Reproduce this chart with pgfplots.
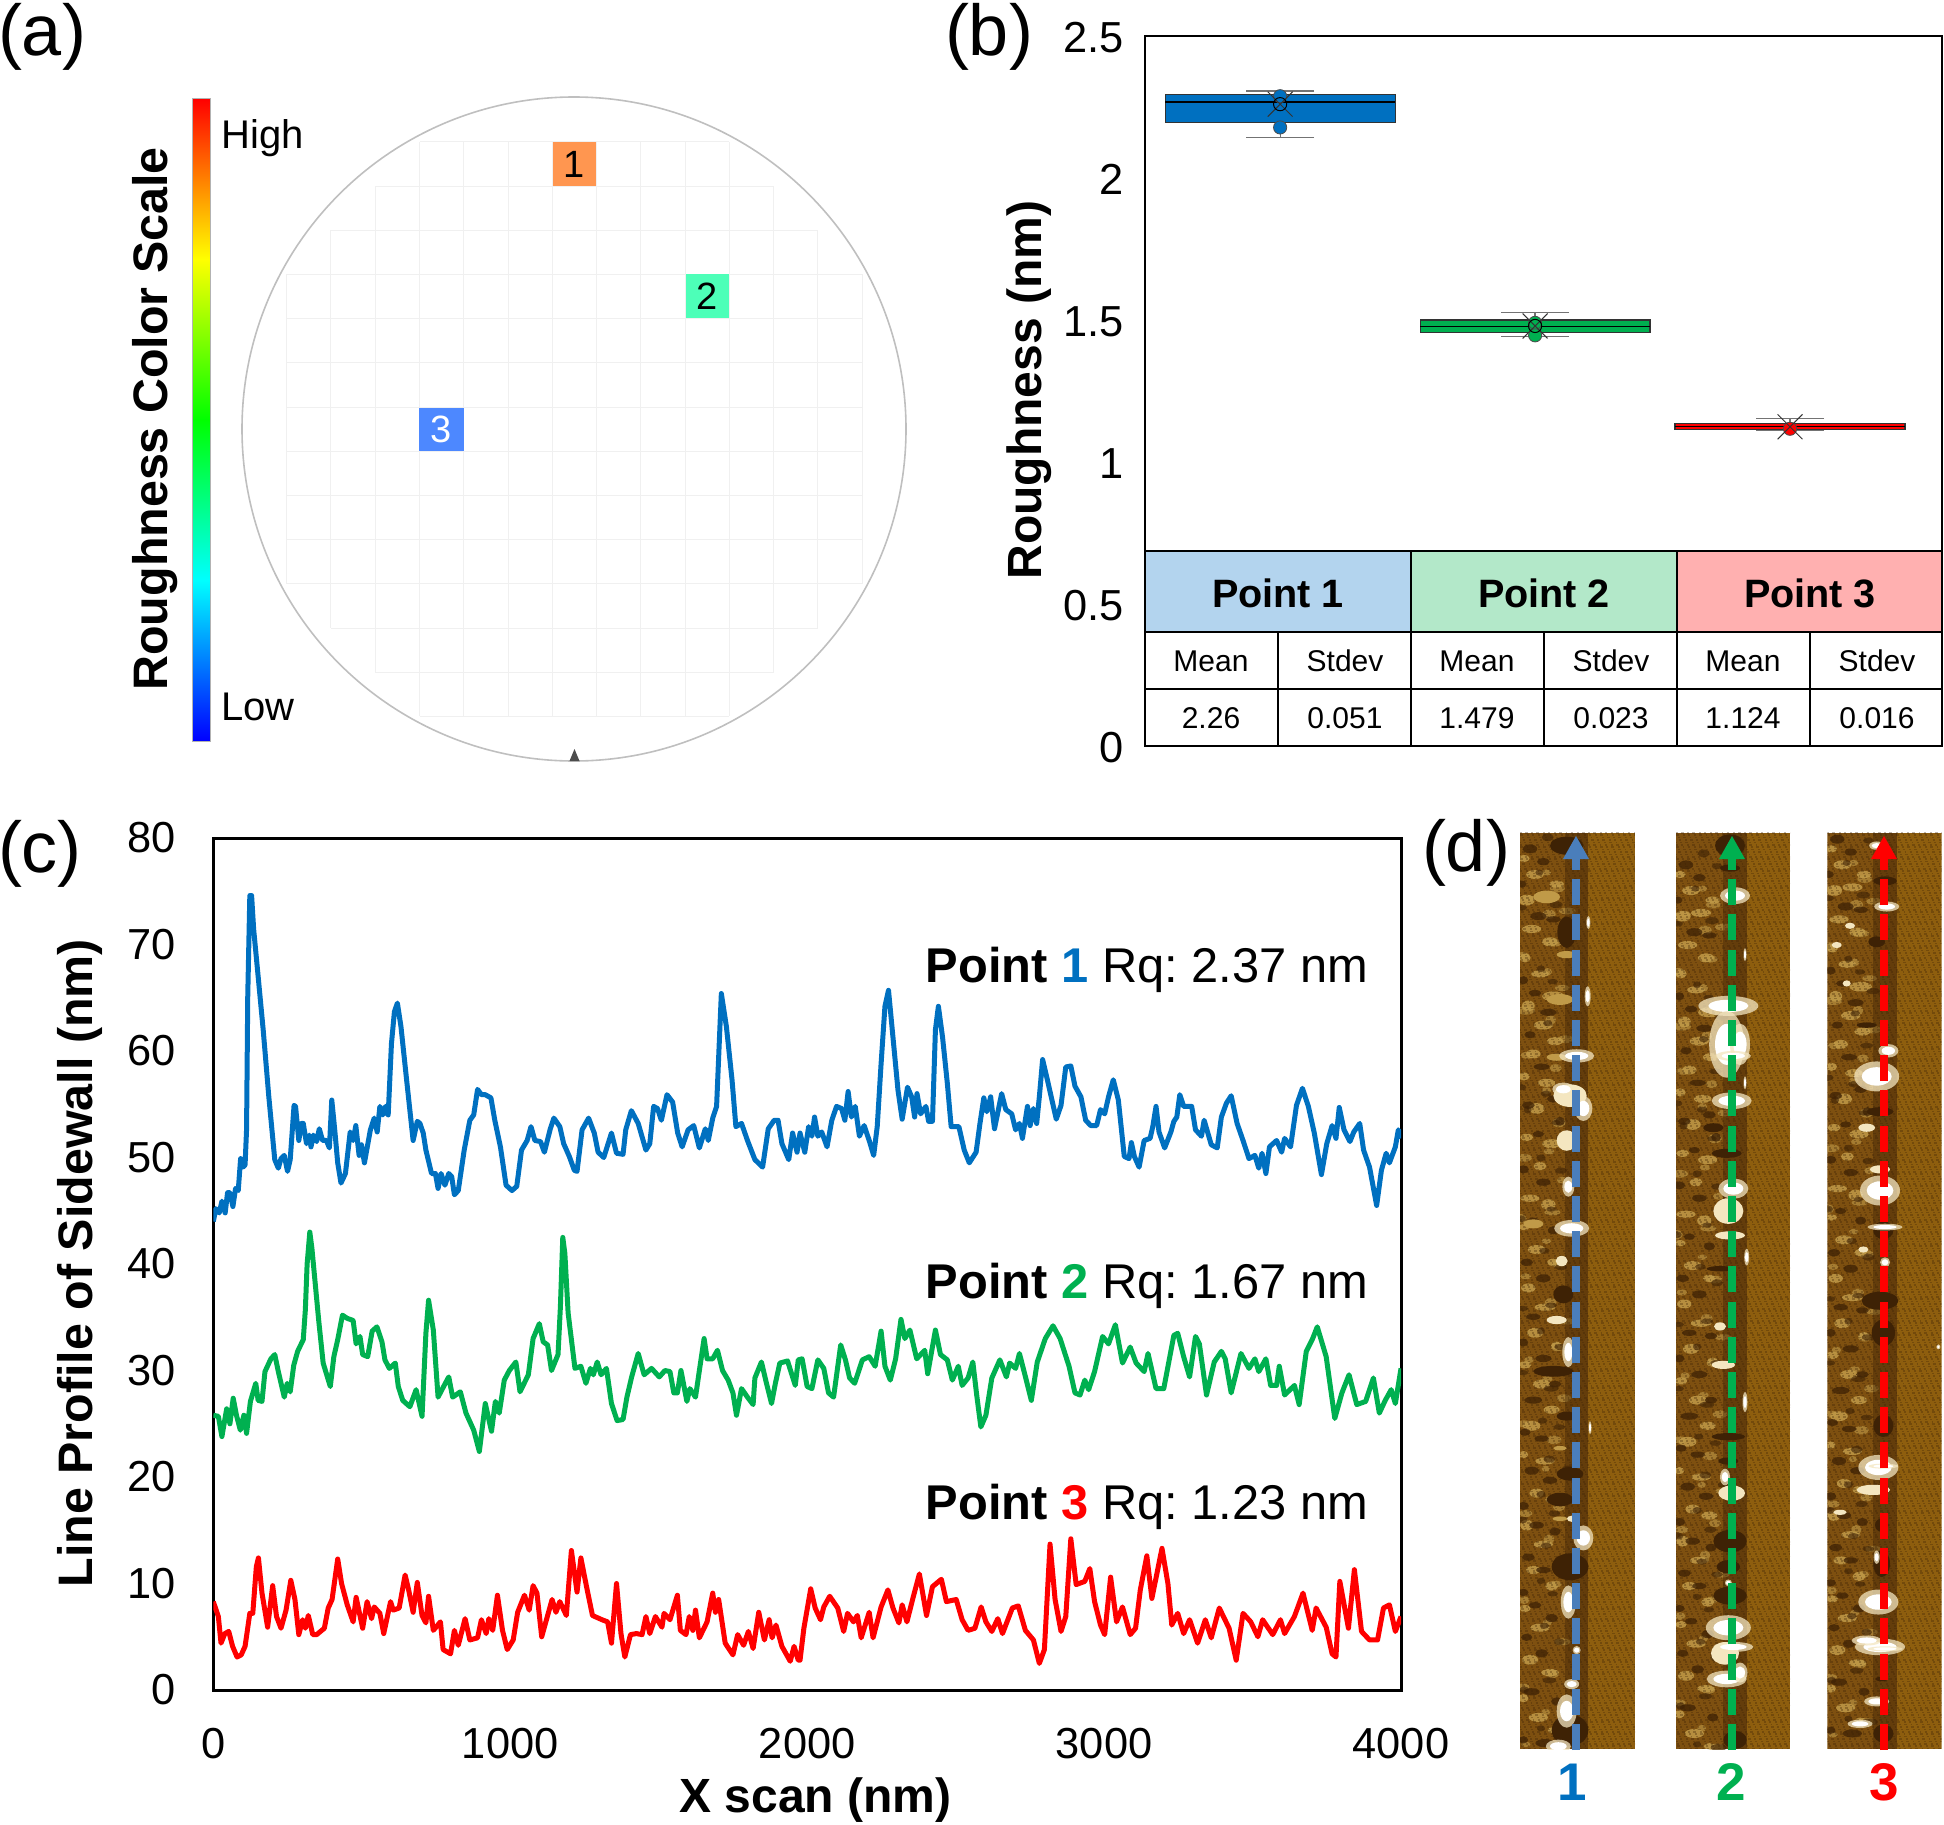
\documentclass[border=0pt]{standalone}
\usepackage{fontspec}
\setmainfont{Liberation Sans}
\usepackage{pgfplots}
\pgfplotsset{compat=1.18}
\usepgfplotslibrary{statistics}
\frenchspacing

\definecolor{pblue}{HTML}{0070C0}
\definecolor{pgreen}{HTML}{00B050}
\definecolor{pred}{HTML}{FF0000}
\definecolor{headblue}{HTML}{B3D4EE}
\definecolor{headgreen}{HTML}{B3E8C9}
\definecolor{headred}{HTML}{FFB0B0}
\definecolor{arrowblue}{HTML}{4A7EBB}
\definecolor{brownbase}{HTML}{7E5010}
\definecolor{brownflat}{HTML}{8E5E0E}
\definecolor{brownlight}{HTML}{C09A48}
\definecolor{browndark}{HTML}{3E2205}
\definecolor{creamy}{HTML}{F4E6C0}

\newcommand{\fs}[1]{\fontsize{#1}{#1}\selectfont}

% left-zone mottling of the AFM strips: dx from strip edge / Y / half sizes
\def\mottle{12/60/14/8,45/85/22/10,20/125/20/12,75/120/25/9,110/100/18/8,35/170/24/9,90/190/20/10,
15/215/14/10,60/240/22/8,100/275/28/11,25/290/16/12,70/320/24/10,40/365/18/10,105/345/20/9,
12/400/14/9,80/410/22/9,50/450/20/12,20/495/16/8,95/505/24/10,60/540/16/9,30/590/24/8,
85/600/18/12,12/635/14/7,50/670/22/10,100/690/16/8,25/730/18/10,75/760/26/8,45/800/20/11,
110/820/14/9,15/850/16/8,65/880/22/10,95/920/20/9,35/945/22/11,10/990/12/8,75/1000/24/8,
50/1050/18/10,100/1060/20/9,20/1100/16/12,70/1130/24/8,40/1170/18/9,95/1195/16/10,
15/1230/14/8,60/1260/24/9,30/1310/20/11,90/1330/22/8,10/1370/13/9,55/1400/24/10,100/1420/14/7}
\def\mottledark{30/45/18/10,70/65/16/8,5/100/12/8,55/150/20/9,100/155/18/7,10/250/12/9,45/270/16/7,
85/300/20/8,30/335/14/8,65/385/20/7,100/435/16/8,25/445/16/8,55/490/14/7,120/470/12/10,
10/545/14/9,70/565/18/8,40/625/14/7,100/640/14/9,20/690/16/8,70/715/18/9,40/775/18/7,105/780/16/7,
10/815/12/9,70/840/20/8,40/905/22/8,105/880/16/7,15/955/14/8,65/965/18/7,35/1015/18/9,
90/1030/18/8,10/1070/14/9,50/1100/18/8,105/1110/14/9,25/1150/16/8,70/1170/18/7,10/1205/13/8,
45/1225/16/7,95/1245/16/9,20/1275/14/8,65/1300/16/9,110/1375/14/9,35/1360/20/8,75/1440/24/9,10/1435/12/8}

% X0 left edge, X1 boundary of the flat zone, X2 right edge, #4 Y shift (zoomed strip coordinates)
\newcommand{\stripbase}[4]{%
  \fill[brownbase] (#1,20) rectangle (#2,1450);
  \fill[brownflat] (#2,20) rectangle (#3,1450);
  \begin{scope}
  \clip (#1,20) rectangle (#2,1450);
  \foreach \dx/\yy/\aa/\bb in \mottle {
    \pgfmathsetmacro{\cx}{#1+\dx}\pgfmathsetmacro{\cy}{\yy+#4}
    \fill[brownlight,opacity=.85] (\cx,\cy) ellipse [x radius=\aa*1.2, y radius=\bb*.7];
    \pgfmathsetmacro{\cx}{#1+mod(\dx+67,150)}\pgfmathsetmacro{\cy}{\yy+#4+22}
    \fill[brownlight,opacity=.6] (\cx,\cy) ellipse [x radius=\aa, y radius=\bb*.6];
  }
  \foreach \dx/\yy/\aa/\bb in \mottledark {
    \pgfmathsetmacro{\cx}{#1+\dx}\pgfmathsetmacro{\cy}{\yy+#4}
    \fill[browndark,opacity=.75] (\cx,\cy) ellipse [x radius=\aa*1.2, y radius=\bb*.7];
    \pgfmathsetmacro{\cx}{#1+mod(\dx+53,150)}\pgfmathsetmacro{\cy}{\yy+#4-18}
    \fill[browndark,opacity=.6] (\cx,\cy) ellipse [x radius=\aa, y radius=\bb*.6];
  }
  \end{scope}
  \fill[browndark,opacity=.4] (#2-70,20) rectangle (#2,1450);
  % fine scan grain
  \foreach \r in {0,...,381} {
    \pgfmathsetmacro{\yy}{20+3.75*\r}
    \pgfmathsetmacro{\ph}{mod(\r*2.3,5.7)}
    \draw[browndark,opacity=.33,line width=.8pt,dash pattern=on .9pt off 1.6pt on 1.3pt off 1.9pt,dash phase=\ph pt] (#1,\yy) -- (#3,\yy);
  }
}
% white spot with a cream halo round it
\newcommand{\spot}[4]{%
  \fill[creamy,opacity=.75] (#1,#2) ellipse [x radius=#3*1.5, y radius=#4*1.3];
  \fill[white] (#1,#2) ellipse [x radius=#3, y radius=#4*.8];
}

\begin{document}
\begin{tikzpicture}
\begin{scope}[x=0.5pt,y=-0.5pt]
\useasboundingbox (0,0) rectangle (1944,1825);

% ---- (a) wafer map
\node[font=\fs{36}] at (42,37) {(a)};
\node[font=\fs{36}] at (989,37) {(b)};
\node[font=\fs{36}] at (40,854) {(c)};
\node[font=\fs{36}] at (1466,853) {(d)};

\node[font=\fs{24.2}\bfseries,rotate=90] at (155,419) {Roughness Color Scale};
\shade[top color=red,bottom color=yellow] (192,98.5) rectangle (210,259.1);
\shade[top color=yellow,bottom color=green] (192,259.1) rectangle (210,419.75);
\shade[top color=green,bottom color=cyan] (192,419.75) rectangle (210,580.4);
\shade[top color=cyan,bottom color=blue] (192,580.4) rectangle (210,741);
\draw[gray!60,line width=.5pt] (192,98.5) rectangle (210,741);
\node[font=\fs{20},anchor=west,inner sep=0] at (221,138) {High};
\node[font=\fs{20},anchor=west,inner sep=0] at (221,707) {Low};

\draw[gray!50,line width=.8pt] (574,429) circle (332);

% die grid, row by row
\foreach \row/\ia/\ib in {0/3/10,1/2/11,2/1/12,3/0/13,4/0/13,5/0/13,6/0/13,7/0/13,8/0/13,9/0/13,10/1/12,11/2/11,12/3/10} {
  \pgfmathsetmacro{\ya}{141.8+44.2*\row}
  \pgfmathsetmacro{\yb}{141.8+44.2*(\row+1)}
  \pgfmathtruncatemacro{\ic}{\ib}
  \foreach \i in {\ia,...,\ic} {
    \pgfmathsetmacro{\xx}{286.7+44.27*\i}
    \draw[black!6,line width=.5pt] (\xx,\ya) -- (\xx,\yb);
  }
  \pgfmathsetmacro{\xa}{286.7+44.27*\ia}
  \pgfmathsetmacro{\xb}{286.7+44.27*\ib}
  \draw[black!6,line width=.5pt] (\xa,\ya) -- (\xb,\ya) (\xa,\yb) -- (\xb,\yb);
}
\fill[fill={rgb,255:red,255;green,150;blue,80}] (552.7,141.8) rectangle (595.8,186);
\node[font=\fs{19}] at (574,164) {1};
\fill[fill={rgb,255:red,77;green,255;blue,184}] (685.5,274.1) rectangle (729,318.4);
\node[font=\fs{19}] at (707,296) {2};
\fill[fill={rgb,255:red,77;green,136;blue,255}] (419.4,407.5) rectangle (463.6,450.7);
\node[font=\fs{19},text=white] at (441.5,429) {3};
\fill[black!70] (569.5,761) -- (574.5,749) -- (579.5,761) -- cycle;
\end{scope}

% ---- (b) box plots
\begin{axis}[
    name=boxes,
    at={(572.5pt,-373pt)},
    anchor=south west,
    scale only axis,
    width=398.5pt,
    height=355pt,
    xmin=0.47, xmax=3.596,
    ymin=0, ymax=2.5,
    xtick=\empty,
    ytick={0,0.5,1,1.5,2,2.5},
    yticklabels={0,0.5,1,1.5,2,2.5},
    major tick length=0pt,
    yticklabel style={font=\fs{21.7},/pgf/number format/assume math mode=true,inner sep=0pt},
    ylabel={\bfseries Roughness (nm)},
    every axis y label/.style={at={(axis description cs:-0.1455,0.501)},rotate=90,anchor=center,font=\fs{24}},
    axis line style={line width=1.2pt},
    y tick label style={xshift=-10.5pt,yshift=-0.8pt},
    boxplot/draw direction=y,
    boxplot/every whisker/.style={draw=black!55,line width=.6pt},
    boxplot/every median/.style={draw=black,line width=.7pt},
    boxplot/every box/.style={draw=black!80,line width=.6pt},
]
\addplot[fill=pblue,boxplot prepared={draw position=1,lower whisker=2.144,lower quartile=2.196,median=2.268,upper quartile=2.295,upper whisker=2.306,box extend=0.902,whisker extend=0.267}] coordinates {};
\addplot[fill=pgreen,boxplot prepared={draw position=2,lower whisker=1.442,lower quartile=1.456,median=1.477,upper quartile=1.500,upper whisker=1.526,box extend=0.902,whisker extend=0.267}] coordinates {};
\addplot[fill=pred,boxplot prepared={draw position=3,lower whisker=1.110,lower quartile=1.115,median=1.126,upper quartile=1.135,upper whisker=1.154,box extend=0.902,whisker extend=0.267}] coordinates {};
% outlying points
\addplot[only marks,mark=*,mark size=3.3pt,mark options={fill=pblue,draw=black!70,line width=.4pt}] coordinates {(1,2.288)(1,2.178)};
\addplot[only marks,mark=*,mark size=3.3pt,mark options={fill=pgreen,draw=black!70,line width=.4pt}] coordinates {(2,1.490)(2,1.446)};
\addplot[only marks,mark=*,mark size=3.3pt,mark options={fill=pred,draw=black!70,line width=.4pt}] coordinates {(3,1.117)};
% means
\addplot[only marks,mark=x,mark size=8.8pt,mark options={draw=black!80,line width=.5pt}] coordinates {(1,2.26)(2,1.479)(3,1.124)};
\addplot[only marks,mark=o,mark size=3.3pt,mark options={draw=black,line width=.5pt}] coordinates {(1,2.26)(2,1.479)};
\end{axis}

% ---- (c) line profiles
\begin{axis}[
    at={(106.65pt,-845pt)},
    anchor=south west,
    scale only axis,
    width=593.85pt,
    height=426pt,
    xmin=0, xmax=4000,
    ymin=0, ymax=80,
    xtick={0,1000,2000,3000,4000},
    ytick={0,10,20,30,40,50,60,70,80},
    major tick length=0pt,
    axis line style={line width=1.5pt},
    ticklabel style={font=\fs{21.7},/pgf/number format/assume math mode=true,/pgf/number format/1000 sep={},inner sep=0pt},
    y tick label style={xshift=-18.5pt},
    x tick label style={yshift=-19pt},
    xlabel={\bfseries X scan (nm)},
    ylabel={\bfseries Line Profile of Sidewall (nm)},
    every axis x label/.style={at={(axis description cs:0.507,-0.129)},anchor=center,font=\fs{24},inner sep=0pt},
    every axis y label/.style={at={(axis description cs:-0.1122,0.501)},rotate=90,anchor=center,font=\fs{24.2}},
]
% Point 1
\addplot[color=pblue,line width=2.5pt,line join=round] coordinates {
(0,44.0)(9,45.2)(20,44.8)(29,45.9)(40,44.8)(48,46.7)(56,46.7)(66,45.4)(75,47.1)(84,46.9)
(92,49.9)(100,49.1)(107,49.3)(112,52.6)(116,65.1)(123,74.6)(129,74.6)(136,71.4)(149,67.6)(168,62.0)
(187,55.7)(207,49.8)(219,49.0)(228,49.9)(239,50.2)(250,48.7)(259,49.8)(272,54.9)(277,54.8)(288,51.6)
(297,53.2)(303,53.2)(314,51.3)(323,52.1)(329,51.0)(337,52.1)(348,51.5)(357,52.7)(368,51.6)(381,51.6)
(391,50.9)(399,55.4)(409,52.6)(419,49.5)(430,47.6)(445,48.5)(461,52.4)(471,51.6)(480,53.0)(491,50.2)
(499,51.2)(509,49.5)(529,52.6)(542,53.7)(552,52.4)(561,54.8)(571,54.0)(580,54.8)(589,54.0)(600,60.7)
(610,63.7)(620,64.5)(632,62.3)(651,57.3)(673,51.6)(687,53.4)(696,53.2)(707,52.3)(716,50.7)(735,48.5)
(748,48.5)(757,47.1)(767,48.5)(780,47.4)(793,48.5)(803,48.2)(812,46.5)(825,46.9)(845,50.7)(864,53.5)
(877,54.0)(890,56.4)(903,55.9)(916,55.9)(935,55.6)(948,53.5)(967,51.0)(986,47.4)(1006,46.9)(1022,47.3)
(1038,50.7)(1057,51.6)(1070,52.9)(1083,51.6)(1102,51.5)(1115,50.5)(1135,52.7)(1147,53.7)(1167,52.9)(1180,51.3)
(1199,50.1)(1216,48.8)(1225,48.7)(1242,52.6)(1264,53.7)(1283,52.3)(1296,50.5)(1315,50.0)(1341,52.3)(1358,50.4)
(1380,50.3)(1389,52.6)(1408,54.4)(1431,53.2)(1457,50.7)(1470,51.3)(1483,54.8)(1496,54.6)(1509,53.5)(1528,55.9)
(1547,55.2)(1564,52.3)(1579,51.0)(1599,52.6)(1618,53.0)(1637,50.9)(1657,52.7)(1667,51.6)(1682,53.7)(1695,54.8)
(1711,65.4)(1728,62.3)(1747,57.3)(1760,52.9)(1779,53.2)(1799,51.6)(1824,49.8)(1850,49.1)(1869,52.7)(1889,53.5)
(1902,53.5)(1915,51.3)(1938,49.8)(1951,52.3)(1966,50.5)(1976,52.3)(1992,50.5)(2005,52.9)(2016,52.0)(2025,53.8)
(2036,52.0)(2049,52.4)(2067,51.0)(2083,53.5)(2099,54.8)(2116,54.6)(2127,53.5)(2138,56.2)(2149,53.8)(2162,54.8)
(2176,52.0)(2192,53.0)(2209,51.6)(2224,50.2)(2236,52.9)(2249,58.8)(2262,64.2)(2274,65.7)(2289,61.3)(2306,56.3)
(2320,53.6)(2338,56.6)(2352,55.7)(2362,53.8)(2370,56.0)(2382,54.1)(2400,54.8)(2409,53.4)(2422,53.4)(2432,62.0)
(2442,64.2)(2456,61.3)(2472,57.0)(2485,52.9)(2511,52.9)(2529,50.7)(2546,49.5)(2569,50.5)(2582,53.2)(2595,55.6)
(2605,54.3)(2618,55.7)(2631,52.7)(2655,56.0)(2669,54.5)(2689,54.1)(2702,52.6)(2715,53.2)(2725,51.8)(2742,54.8)
(2751,53.0)(2762,54.6)(2773,53.2)(2782,55.7)(2793,59.2)(2809,57.3)(2839,53.6)(2855,54.9)(2871,58.5)(2888,58.6)
(2902,56.7)(2922,55.7)(2938,53.5)(2955,53.0)(2975,53.0)(2988,54.5)(3002,54.1)(3015,55.7)(3031,57.3)(3048,55.4)
(3068,50.1)(3084,49.9)(3092,51.4)(3102,50.1)(3118,49.1)(3135,51.6)(3155,51.8)(3164,52.9)(3175,54.8)(3185,52.4)
(3204,50.9)(3225,52.4)(3235,53.4)(3245,53.8)(3255,55.9)(3268,54.8)(3295,54.8)(3308,52.6)(3328,52.0)(3337,53.5)
(3361,51.2)(3381,50.9)(3395,53.8)(3412,55.1)(3428,55.8)(3448,53.2)(3468,51.6)(3488,49.9)(3508,50.2)(3521,49.0)
(3532,50.4)(3545,48.5)(3557,51.0)(3581,51.6)(3598,50.5)(3608,51.8)(3628,51.0)(3648,54.9)(3668,56.5)(3688,54.8)
(3708,52.3)(3732,48.4)(3750,51.3)(3768,53.0)(3781,51.8)(3792,54.7)(3808,52.6)(3828,51.5)(3841,52.4)(3861,53.2)
(3874,50.7)(3894,49.1)(3918,45.5)(3934,48.8)(3950,50.4)(3961,49.5)(3981,51.0)(3991,52.6)(4000,51.8)
};
% Point 2
\addplot[color=pgreen,line width=2.5pt,line join=round] coordinates {
(0,25.8)(17,25.7)(29,23.8)(45,26.4)(56,25.0)(67,27.4)(78,25.8)(91,24.4)(103,25.8)(112,24.1)
(125,27.1)(143,28.8)(151,27.2)(164,27.1)(174,29.9)(194,31.1)(207,31.5)(219,29.9)(239,27.5)(249,28.8)
(259,28.0)(271,30.5)(284,31.8)(303,32.9)(310,35.7)(316,40.0)(325,43.0)(332,41.5)(355,34.7)(370,30.7)
(394,28.5)(406,31.3)(419,32.9)(435,35.2)(451,34.9)(471,34.7)(481,32.5)(494,33.2)(503,31.5)(520,31.3)
(535,33.7)(551,34.1)(568,32.7)(578,31.0)(593,30.2)(613,30.7)(623,28.5)(638,27.2)(662,26.6)(683,28.2)
(703,25.7)(716,33.5)(725,36.6)(741,33.8)(757,27.5)(770,28.2)(793,29.4)(806,27.5)(832,28.0)(851,26.0)
(877,24.4)(896,22.4)(916,26.9)(937,24.3)(950,27.1)(963,26.0)(980,29.1)(997,30.0)(1019,30.8)(1033,28.0)
(1061,29.6)(1077,33.0)(1098,34.4)(1111,32.7)(1126,32.4)(1139,30.0)(1161,31.5)(1169,36.0)(1177,42.5)(1184,41.0)
(1195,35.4)(1218,30.2)(1238,30.4)(1255,28.8)(1270,30.2)(1280,29.6)(1293,30.8)(1306,29.6)(1324,30.2)(1341,26.9)
(1360,25.3)(1380,25.4)(1393,27.5)(1409,29.4)(1431,31.6)(1451,29.6)(1476,30.2)(1502,29.4)(1521,30.0)(1538,29.9)
(1551,27.9)(1563,27.9)(1575,30.0)(1595,27.1)(1605,28.3)(1624,27.5)(1637,30.0)(1653,33.0)(1663,31.1)(1682,31.1)
(1698,31.9)(1715,30.0)(1734,29.1)(1750,27.9)(1762,25.8)(1779,28.3)(1799,27.5)(1818,26.8)(1824,29.3)(1846,30.8)
(1863,28.8)(1880,26.9)(1893,28.8)(1908,30.7)(1934,30.9)(1960,28.6)(1970,31.0)(1983,31.1)(2000,28.5)(2016,28.3)
(2036,31.0)(2056,30.2)(2072,27.9)(2089,27.5)(2113,32.4)(2129,31.0)(2143,29.3)(2160,28.8)(2186,31.0)(2209,31.3)
(2229,30.4)(2249,33.7)(2262,30.4)(2280,29.1)(2298,31.1)(2316,34.8)(2329,33.0)(2346,33.8)(2369,31.1)(2396,31.9)
(2406,29.7)(2432,33.8)(2449,31.5)(2472,31.0)(2489,29.1)(2509,30.4)(2522,28.6)(2542,29.3)(2558,30.8)(2571,27.7)
(2585,24.7)(2602,25.8)(2622,29.3)(2649,31.0)(2671,29.4)(2682,30.7)(2702,30.2)(2715,31.6)(2738,29.1)(2755,27.2)
(2775,30.8)(2802,33.0)(2828,34.2)(2852,33.0)(2882,30.4)(2902,27.9)(2919,27.7)(2935,29.1)(2948,28.2)(2968,29.9)
(2995,33.2)(3015,32.5)(3038,34.3)(3062,30.7)(3088,32.2)(3108,30.7)(3135,29.9)(3148,31.6)(3175,28.3)(3201,28.3)
(3235,33.3)(3248,33.5)(3268,31.3)(3288,29.4)(3308,33.2)(3321,32.5)(3345,27.7)(3371,30.8)(3395,31.8)(3408,31.1)
(3428,27.9)(3461,31.6)(3488,30.2)(3508,31.1)(3521,29.9)(3545,31.1)(3561,28.6)(3581,28.6)(3590,30.4)(3608,27.7)
(3641,28.6)(3657,26.8)(3681,31.8)(3701,32.9)(3718,34.1)(3748,31.3)(3777,25.5)(3801,27.9)(3825,29.6)(3851,26.8)
(3881,27.1)(3907,29.3)(3927,26.0)(3947,27.2)(3967,28.2)(3981,26.9)(4000,30.2)
};
% Point 3
\addplot[color=pred,line width=2.5pt,line join=round] coordinates {
(0,8.3)(17,6.9)(26,4.4)(39,5.3)(52,5.5)(65,4.1)(80,3.1)(94,3.3)(107,4.1)(123,7.2)
(133,7.2)(145,11.6)(152,12.4)(164,9.1)(183,5.9)(200,9.8)(213,6.9)(228,5.8)(245,7.5)(261,10.3)
(275,8.5)(288,5.2)(301,6.6)(310,5.8)(320,7.0)(335,5.2)(348,5.2)(374,5.8)(387,7.7)(400,8.5)
(419,12.3)(432,10.0)(451,8.0)(471,6.4)(481,8.7)(503,5.8)(518,8.3)(533,6.7)(542,7.8)(561,7.2)
(574,5.3)(597,8.3)(606,7.5)(626,7.7)(646,10.8)(658,9.4)(673,7.3)(687,10.1)(703,7.0)(716,6.3)
(725,8.8)(741,5.6)(765,6.4)(774,3.8)(799,3.4)(812,5.6)(825,4.2)(848,6.7)(864,4.7)(890,4.9)
(903,6.6)(919,5.3)(928,6.7)(941,5.6)(957,8.9)(974,5.6)(990,3.8)(1010,4.7)(1025,7.3)(1048,8.9)
(1064,7.5)(1077,9.8)(1090,9.1)(1106,5.0)(1122,6.6)(1141,8.5)(1154,7.3)(1167,8.3)(1189,7.0)(1206,13.1)
(1225,9.2)(1238,12.4)(1257,9.7)(1277,7.0)(1309,6.6)(1328,6.4)(1341,4.4)(1358,10.0)(1373,5.3)(1386,3.1)
(1405,5.2)(1425,5.3)(1444,5.2)(1457,6.9)(1470,5.3)(1489,6.9)(1511,5.9)(1518,7.2)(1538,6.6)(1563,8.9)
(1573,5.6)(1592,5.2)(1603,6.9)(1615,5.6)(1624,7.5)(1637,4.9)(1663,6.4)(1682,9.1)(1691,7.3)(1702,8.5)
(1724,4.4)(1750,3.3)(1766,5.2)(1786,4.2)(1802,5.5)(1818,3.9)(1837,7.3)(1856,4.7)(1872,6.6)(1882,4.9)
(1895,6.1)(1915,4.1)(1943,2.7)(1956,4.1)(1970,2.8)(1976,2.8)(1989,5.8)(2012,9.5)(2027,7.7)(2045,6.6)
(2056,7.8)(2076,8.8)(2103,7.7)(2123,5.5)(2136,7.2)(2156,6.4)(2169,7.0)(2182,4.9)(2209,7.3)(2222,4.9)
(2249,7.8)(2272,9.4)(2289,7.7)(2309,6.3)(2320,8.0)(2336,6.4)(2356,8.6)(2378,10.9)(2402,7.0)(2422,9.7)
(2452,10.4)(2469,8.3)(2502,8.5)(2522,6.6)(2542,5.6)(2565,5.8)(2586,7.8)(2602,6.4)(2622,5.5)(2642,6.7)
(2658,5.3)(2691,7.7)(2711,7.9)(2735,5.6)(2762,4.7)(2782,2.5)(2799,3.8)(2818,13.7)(2835,8.5)(2855,5.5)
(2871,6.9)(2888,14.2)(2906,9.9)(2935,10.2)(2952,11.4)(2968,8.3)(2988,6.1)(3002,5.2)(3022,10.6)(3042,6.4)
(3062,7.8)(3088,5.2)(3106,5.8)(3122,9.4)(3144,12.6)(3161,8.6)(3195,13.3)(3215,10.0)(3228,6.1)(3248,7.2)
(3268,5.3)(3288,6.6)(3315,4.4)(3341,6.6)(3361,4.9)(3388,7.7)(3421,5.8)(3445,2.8)(3468,7.2)(3494,6.4)
(3518,5.0)(3534,6.6)(3568,5.2)(3594,6.6)(3608,5.3)(3641,6.9)(3670,9.1)(3701,5.6)(3714,7.7)(3748,5.9)
(3768,3.4)(3781,3.1)(3794,10.2)(3823,5.8)(3843,11.3)(3867,5.5)(3894,4.7)(3921,4.7)(3941,7.7)(3961,8.0)
(3981,5.5)(4000,6.9)
};
\node[anchor=base east,inner sep=0,font=\fs{24.4}] at (axis cs:3890,66.4) {\textbf{Point \textcolor{pblue}{1}} Rq: 2.37 nm};
\node[anchor=base east,inner sep=0,font=\fs{24.4}] at (axis cs:3890,36.8) {\textbf{Point \textcolor{pgreen}{2}} Rq: 1.67 nm};
\node[anchor=base east,inner sep=0,font=\fs{24.4}] at (axis cs:3890,16.05) {\textbf{Point \textcolor{pred}{3}} Rq: 1.23 nm};
\end{axis}

% ---- table under the box plots
\begin{scope}[x=0.5pt,y=-0.5pt]
\fill[headblue] (1145,551) rectangle (1411,632);
\fill[headgreen] (1411,551) rectangle (1677,632);
\fill[headred] (1677,551) rectangle (1942,632);
\fill[white] (1145,632) rectangle (1942,746);
\draw[line width=1.4pt] (1145,551) -- (1942,551);
\draw[line width=1pt] (1145,632) -- (1942,632) (1145,689) -- (1942,689) (1145,746) -- (1942,746);
\draw[line width=1pt] (1145,551) -- (1145,746) (1411,551) -- (1411,746) (1677,551) -- (1677,746) (1942,551) -- (1942,746);
\draw[line width=.8pt] (1278,632) -- (1278,746) (1544,632) -- (1544,746) (1810,632) -- (1810,746);
\node[font=\fs{19.8}\bfseries] at (1278,593) {Point 1};
\node[font=\fs{19.8}\bfseries] at (1544,593) {Point 2};
\node[font=\fs{19.8}\bfseries] at (1810,593) {Point 3};
\foreach \xx/\lab in {1211/Mean,1345/Stdev,1477/Mean,1611/Stdev,1743/Mean,1877/Stdev} {
  \node[font=\fs{15}] at (\xx,661) {\lab};
}
\foreach \xx/\lab in {1211/2.26,1345/0.051,1477/1.479,1611/0.023,1743/1.124,1877/0.016} {
  \node[font=\fs{15}] at (\xx,718) {\lab};
}
\node[font=\fs{26.5}\bfseries,text=pblue] at (1572,1782) {1};
\node[font=\fs{26.5}\bfseries,text=pgreen] at (1731,1782) {2};
\node[font=\fs{26.5}\bfseries,text=pred] at (1884,1782) {3};
\end{scope}

% ---- (d) AFM strips, in zoomed strip coordinates
\begin{scope}[shift={(710pt,-410pt)},x=0.16667pt,y=-0.32051pt]
% strip 1
\begin{scope}
\clip (300,20) rectangle (645,1450);
\stripbase{300}{505}{645}{0}
\foreach \xx/\yy/\aa/\bb in {440/40/50/20,440/175/28/35,450/1165/55/30,450/1020/40/15,450/1420/55/35,430/740/30/20,440/930/30/10,400/860/60/12,420/1060/40/15} {
  \fill[browndark] (\xx,\yy) ellipse [x radius=\aa, y radius=\bb*.7];
}
\foreach \xx/\yy/\aa/\bb in {420/280/40/12,380/120/40/14,340/630/30/10,410/370/30/8,440/210/30/8,420/980/20/5,420/1090/22/5} {
  \fill[brownlight] (\xx,\yy) ellipse [x radius=\aa, y radius=\bb*.7];
}
\foreach \xx/\yy/\aa/\bb in {450/430/50/22,440/500/30/20,425/688/18/10,410/780/30/8,455/1090/14/6} {
  \fill[creamy] (\xx,\yy) ellipse [x radius=\aa, y radius=\bb*.8];
}
\foreach \xx/\yy/\aa/\bb in {470/368/35/8,445/572/12/12,455/637/35/10,445/830/12/18,505/160/4/8,503/275/6/12,490/450/18/15,490/1120/20/15,445/1220/15/20,440/1390/20/20,455/1348/15/6,415/1445/25/8,470/1295/8/5,510/948/3/8,430/420/22/8} {
  \spot{\xx}{\yy}{\aa}{\bb}
}
\end{scope}
% strip 2
\begin{scope}
\clip (768,20) rectangle (1110,1450);
\stripbase{768}{980}{1110}{25}
\foreach \xx/\yy/\aa/\bb in {930/40/45/25,920/520/45/10,925/962/50/8,930/1125/50/25,925/1165/35/15,930/1210/50/20,945/1435/35/20,925/1000/30/8,880/480/30/10,930/75/30/8,900/700/40/6} {
  \fill[browndark] (\xx,\yy) ellipse [x radius=\aa, y radius=\bb*.7];
}
\foreach \xx/\yy/\aa/\bb in {925/610/45/25,930/648/45/8,910/850/35/8,900/790/18/8,935/1050/40/15,915/1300/42/22} {
  \fill[creamy] (\xx,\yy) ellipse [x radius=\aa, y radius=\bb*.8];
}
\foreach \xx/\yy/\aa/\bb in {925/290/60/12,920/350/35/40,960/350/20/25,940/368/35/6,945/118/30/10,935/438/40/10,940/575/30/12,980/682/5/10,975/908/5/12,915/1025/10/10,925/1190/7/4,925/1260/45/15,920/1340/40/10,940/1290/40/6,960/1330/15/12,975/210/3/8,975/410/3/8} {
  \spot{\xx}{\yy}{\aa}{\bb}
}
\end{scope}
% strip 3
\begin{scope}
\clip (1222,20) rectangle (1565,1450);
\stripbase{1222}{1430}{1565}{-15}
\foreach \xx/\yy/\aa/\bb in {1395/95/35/10,1380/455/40/10,1380/750/55/20,1390/800/35/30,1390/945/30/25,1385/1100/20/15,1385/1160/25/30,1390/1425/30/20,1370/190/25/12,1390/640/30/20,1340/320/30/6,1385/1340/20/5} {
  \fill[browndark] (\xx,\yy) ellipse [x radius=\aa, y radius=\bb*.7];
}
\foreach \xx/\yy/\aa/\bb in {1380/545/30/8,1360/1045/50/10,1280/255/12/6,1290/165/15/6,1250/195/15/6,1260/1080/20/5,1340/480/25/8,1330/670/15/6} {
  \fill[creamy] (\xx,\yy) ellipse [x radius=\aa, y radius=\bb*.8];
}
\foreach \xx/\yy/\aa/\bb in {1370/400/45/18,1370/40/15/5,1380/578/40/18,1395/635/35/4,1395/690/10/6,1375/1010/40/15,1390/1008/30/3,1375/1220/40/15,1380/1290/50/10,1395/1293/35/3,1340/1280/30/6,1370/1375/25/6,1320/1410/25/5,1405/360/20/8,1555/822/4/3,1370/1150/6/8,1400/135/25/6} {
  \spot{\xx}{\yy}{\aa}{\bb}
}
\end{scope}
\end{scope}

% dashed arrows up the strips
\begin{scope}[x=0.5pt,y=-0.5pt]
\foreach \xx/\cc in {1576/arrowblue,1732/pgreen,1884/pred} {
  \draw[\cc,line width=4.1pt,dash pattern=on 13pt off 4.6pt] (\xx,1750) -- (\xx,855);
  \fill[\cc] (\xx-13,859) -- (\xx,836) -- (\xx+13,859) -- cycle;
}
\end{scope}
\end{tikzpicture}
\end{document}
